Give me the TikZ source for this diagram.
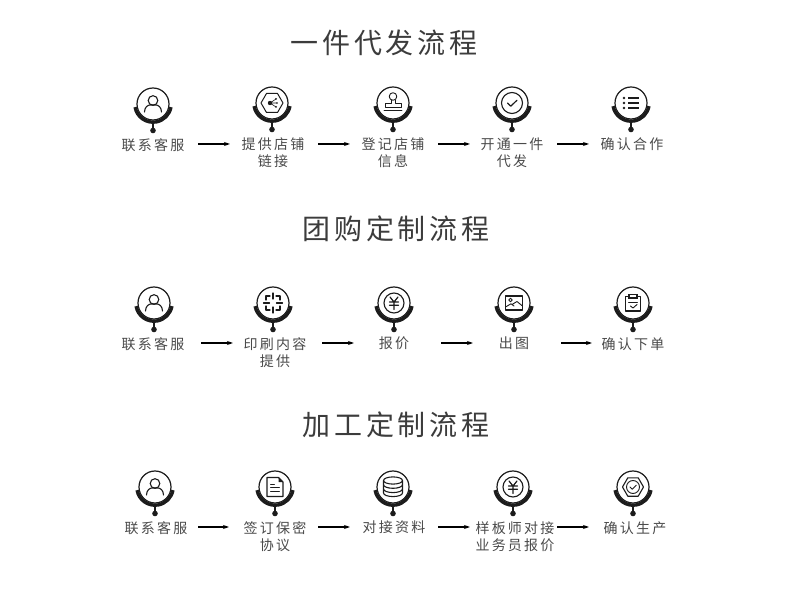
\documentclass[tikz,border=0pt]{standalone}
\usepackage{fontspec}
\usetikzlibrary{arrows.meta}
\newfontfamily\labfont[LetterSpace=16]{Noto Sans CJK SC}
\newfontfamily\titlefont[LetterSpace=14]{Noto Sans CJK SC}
\definecolor{labc}{HTML}{4A4A4A}
\definecolor{titlec}{HTML}{3C3C3C}
\definecolor{inkc}{HTML}{1C1C1C}
\tikzset{
  lab/.style={anchor=north,align=center,inner sep=0pt,text=labc,font=\labfont\fontsize{14}{17}\selectfont},
  ttl/.style={anchor=center,inner sep=0pt,text=titlec,font=\titlefont\fontsize{28}{32}\selectfont},
  conn/.style={draw=black,line width=1.3pt,-{Stealth[length=6pt,width=4pt]}},
  ic/.style={draw=inkc,line width=.9pt,line cap=round,line join=round,fill=none},
  pics/badge/.style={code={
    \draw[inkc,line width=1.2pt] (0,0) circle (16);
    \draw[inkc,line width=3.4pt] (190:18.2) arc (190:350:18.2);
    \draw[inkc,line width=1.5pt] (0,-19) -- (0,-26);
    \fill[inkc] (0,-26.5) circle (2.8);
  }},
  pics/person/.style={code={
    \draw[ic,line width=1.1pt] (0,3.5) circle (4.8);
    \draw[ic,line width=1.1pt] (-8.5,-8) .. controls (-8.5,-3) and (-5,-1) .. (-3,-1) -- (3,-1) .. controls (5,-1) and (8.5,-3) .. (8.5,-8);
  }},
  pics/hexa/.style={code={
    \draw[ic,line width=1pt] (-11,0) -- (-5.5,9.5) -- (5.5,9.5) -- (11,0) -- (5.5,-9.5) -- (-5.5,-9.5) -- cycle;
    \fill[inkc] (-2,0) circle (2.2);
    \fill[inkc] (4,4) circle (1); \fill[inkc] (4,-4) circle (1); \fill[inkc] (5,0) circle (.9);
    \draw[ic,line width=.6pt] (-2,0) -- (4,4) (-2,0) -- (4,-4) (-2,0) -- (5,0);
  }},
  pics/stamp/.style={code={
    \draw[ic] (0,6.5) circle (3.8);
    \draw[ic] (-2,3) -- (-2,0) -- (-8,0) -- (-8,-4) -- (8,-4) -- (8,0) -- (2,0) -- (2,3);
    \draw[ic] (-9,-7) -- (9,-7);
  }},
  pics/checkc/.style={code={
    \draw[ic,line width=1.1pt] (0,0) circle (10.5);
    \draw[ic,line width=1.2pt] (-4.5,0) -- (-1.2,-3.2) -- (5,2.8);
  }},
  pics/listi/.style={code={
    \foreach \yy in {5,0,-5} {
      \fill[inkc] (-7,\yy) circle (1.3);
      \draw[inkc,line width=1.5pt] (-3,\yy) -- (8,\yy);
    }
  }},
  pics/cropi/.style={code={
    \draw[ic,line width=1.3pt] (-3,7) -- (-7,7) -- (-7,3) (3,7) -- (7,7) -- (7,3) (7,-3) -- (7,-7) -- (3,-7) (-3,-7) -- (-7,-7) -- (-7,-3);
    \draw[ic,line width=1.1pt] (0,10) -- (0,4) (0,-10) -- (0,-4) (-9.5,0) -- (-3.5,0) (9.5,0) -- (3.5,0);
  }},
  pics/yen/.style={code={
    \draw[ic,line width=1.1pt] (0,0) circle (10);
    \draw[ic,line width=1.2pt] (-4,6) -- (0,1) -- (4,6) (0,1) -- (0,-6.5) (-4.5,1) -- (4.5,1) (-4.5,-2.2) -- (4.5,-2.2);
  }},
  pics/imagei/.style={code={
    \draw[ic,line width=1.1pt] (-8.5,-7) rectangle (8.5,7);
    \draw[ic] (-3.5,3) circle (1.7);
    \draw[ic] (-8.5,-4) -- (-3,-.8) -- (0,-3) (-2,-1.5) -- (3,1.5) -- (8.5,-3);
  }},
  pics/clip/.style={code={
    \draw[ic,line width=1.2pt] (-7.5,-8) rectangle (7.5,6.5);
    \draw[inkc,fill=white,line width=1.2pt] (-4,5) rectangle (4,8.5);
    \draw[ic] (-4.5,1) -- (4.5,1);
    \draw[ic] (-2.5,-3) -- (0,-5) -- (4,-1.5);
  }},
  pics/doci/.style={code={
    \draw[ic,line width=1.1pt] (-8,-9.5) -- (8,-9.5) -- (8,5) -- (3.5,9.5) -- (-8,9.5) -- cycle;
    \fill[inkc] (3.5,9.5) -- (8,5) -- (3.5,5) -- cycle;
    \draw[ic] (-4.5,3) -- (-.5,3) (-4.5,-.5) -- (4.5,-.5) (-4.5,-4) -- (4.5,-4);
  }},
  pics/dbi/.style={code={
    \draw[ic,line width=1.1pt] (0,6.5) ellipse (9.5 and 3.6);
    \draw[ic,line width=1.1pt] (-9.5,6.5) -- (-9.5,-6) arc (180:360:9.5 and 3.6) -- (9.5,6.5);
    \draw[ic,line width=1.1pt] (-9.5,2.3) arc (180:360:9.5 and 3.6);
    \draw[ic,line width=1.1pt] (-9.5,-2) arc (180:360:9.5 and 3.6);
  }},
  pics/gear/.style={code={
    \draw[ic,line width=1.1pt] (-10.5,0) -- (-5.2,9.2) -- (5.2,9.2) -- (10.5,0) -- (5.2,-9.2) -- (-5.2,-9.2) -- cycle;
    \draw[ic] (0,0) circle (6.5);
    \draw[ic] (-3,0) -- (-.8,-2.2) -- (3.2,1.8);
  }},
}
\newcommand{\arrowby}[4]{\draw[conn,shorten <=#3pt,shorten >=#4pt] ([yshift=-6pt]#1.north) -- ([yshift=-6pt]#2.north);}
\begin{document}
\begin{tikzpicture}[x=1pt,y=1pt]
\useasboundingbox (0,0) rectangle (790,-609);
\fill[white] (0,0) rectangle (790,-609);
% titles
\node[ttl] (t1) at (384,-43) {一件代发流程};
\node[ttl] (t2) at (396,-229) {团购定制流程};
\node[ttl] (t3) at (396,-425) {加工定制流程};
% row 1
\pic at (153,-104) {badge}; \pic at (153,-104) {person};
\pic at (272,-103) {badge}; \pic at (272,-103) {hexa};
\pic at (393,-103) {badge}; \pic at (393,-103) {stamp};
\pic at (512,-103) {badge}; \pic at (512,-103) {checkc};
\pic at (631,-103) {badge}; \pic at (631,-103) {listi};
\node[lab] (a1) at (153,-138) {联系客服};
\node[lab] (a2) at (273,-138) {提供店铺\\链接};
\node[lab] (a3) at (393,-138) {登记店铺\\信息};
\node[lab] (a4) at (512,-138) {开通一件\\代发};
\node[lab] (a5) at (632,-138) {确认合作};
\arrowby{a1}{a2}{45}{43}
\arrowby{a2}{a3}{45}{43}
\arrowby{a3}{a4}{45}{42}
\arrowby{a4}{a5}{45}{43}
% row 2
\pic at (154,-303) {badge}; \pic at (154,-303) {person};
\pic at (273,-303) {badge}; \pic at (273,-303) {cropi};
\pic at (394,-303) {badge}; \pic at (394,-303) {yen};
\pic at (514,-303) {badge}; \pic at (514,-303) {imagei};
\pic at (633,-303) {badge}; \pic at (633,-303) {clip};
\node[lab] (b1) at (153,-337) {联系客服};
\node[lab] (b2) at (275,-337) {印刷内容\\提供};
\node[lab] (b3) at (394,-337) {报价};
\node[lab] (b4) at (514,-337) {出图};
\node[lab] (b5) at (633,-337) {确认下单};
\arrowby{b1}{b2}{48}{42}
\arrowby{b2}{b3}{47}{40}
\arrowby{b3}{b4}{47}{41}
\arrowby{b4}{b5}{47}{41}
% row 3
\pic at (155,-487) {badge}; \pic at (155,-487) {person};
\pic at (275,-487) {badge}; \pic at (275,-487) {doci};
\pic at (393,-487) {badge}; \pic at (393,-487) {dbi};
\pic at (513,-487) {badge}; \pic at (513,-487) {yen};
\pic at (633,-487) {badge}; \pic at (633,-487) {gear};
\node[lab] (c1) at (156,-521) {联系客服};
\node[lab] (c2) at (275,-521) {签订保密\\协议};
\node[lab] (c3) at (394,-521) {对接资料};
\node[lab] (c4) at (515,-521) {样板师对接\\业务员报价};
\node[lab] (c5) at (635,-521) {确认生产};
\arrowby{c1}{c2}{42}{46}
\arrowby{c2}{c3}{43}{44}
\arrowby{c3}{c4}{44}{45}
\arrowby{c4}{c5}{42}{46}
\end{tikzpicture}
\end{document}
